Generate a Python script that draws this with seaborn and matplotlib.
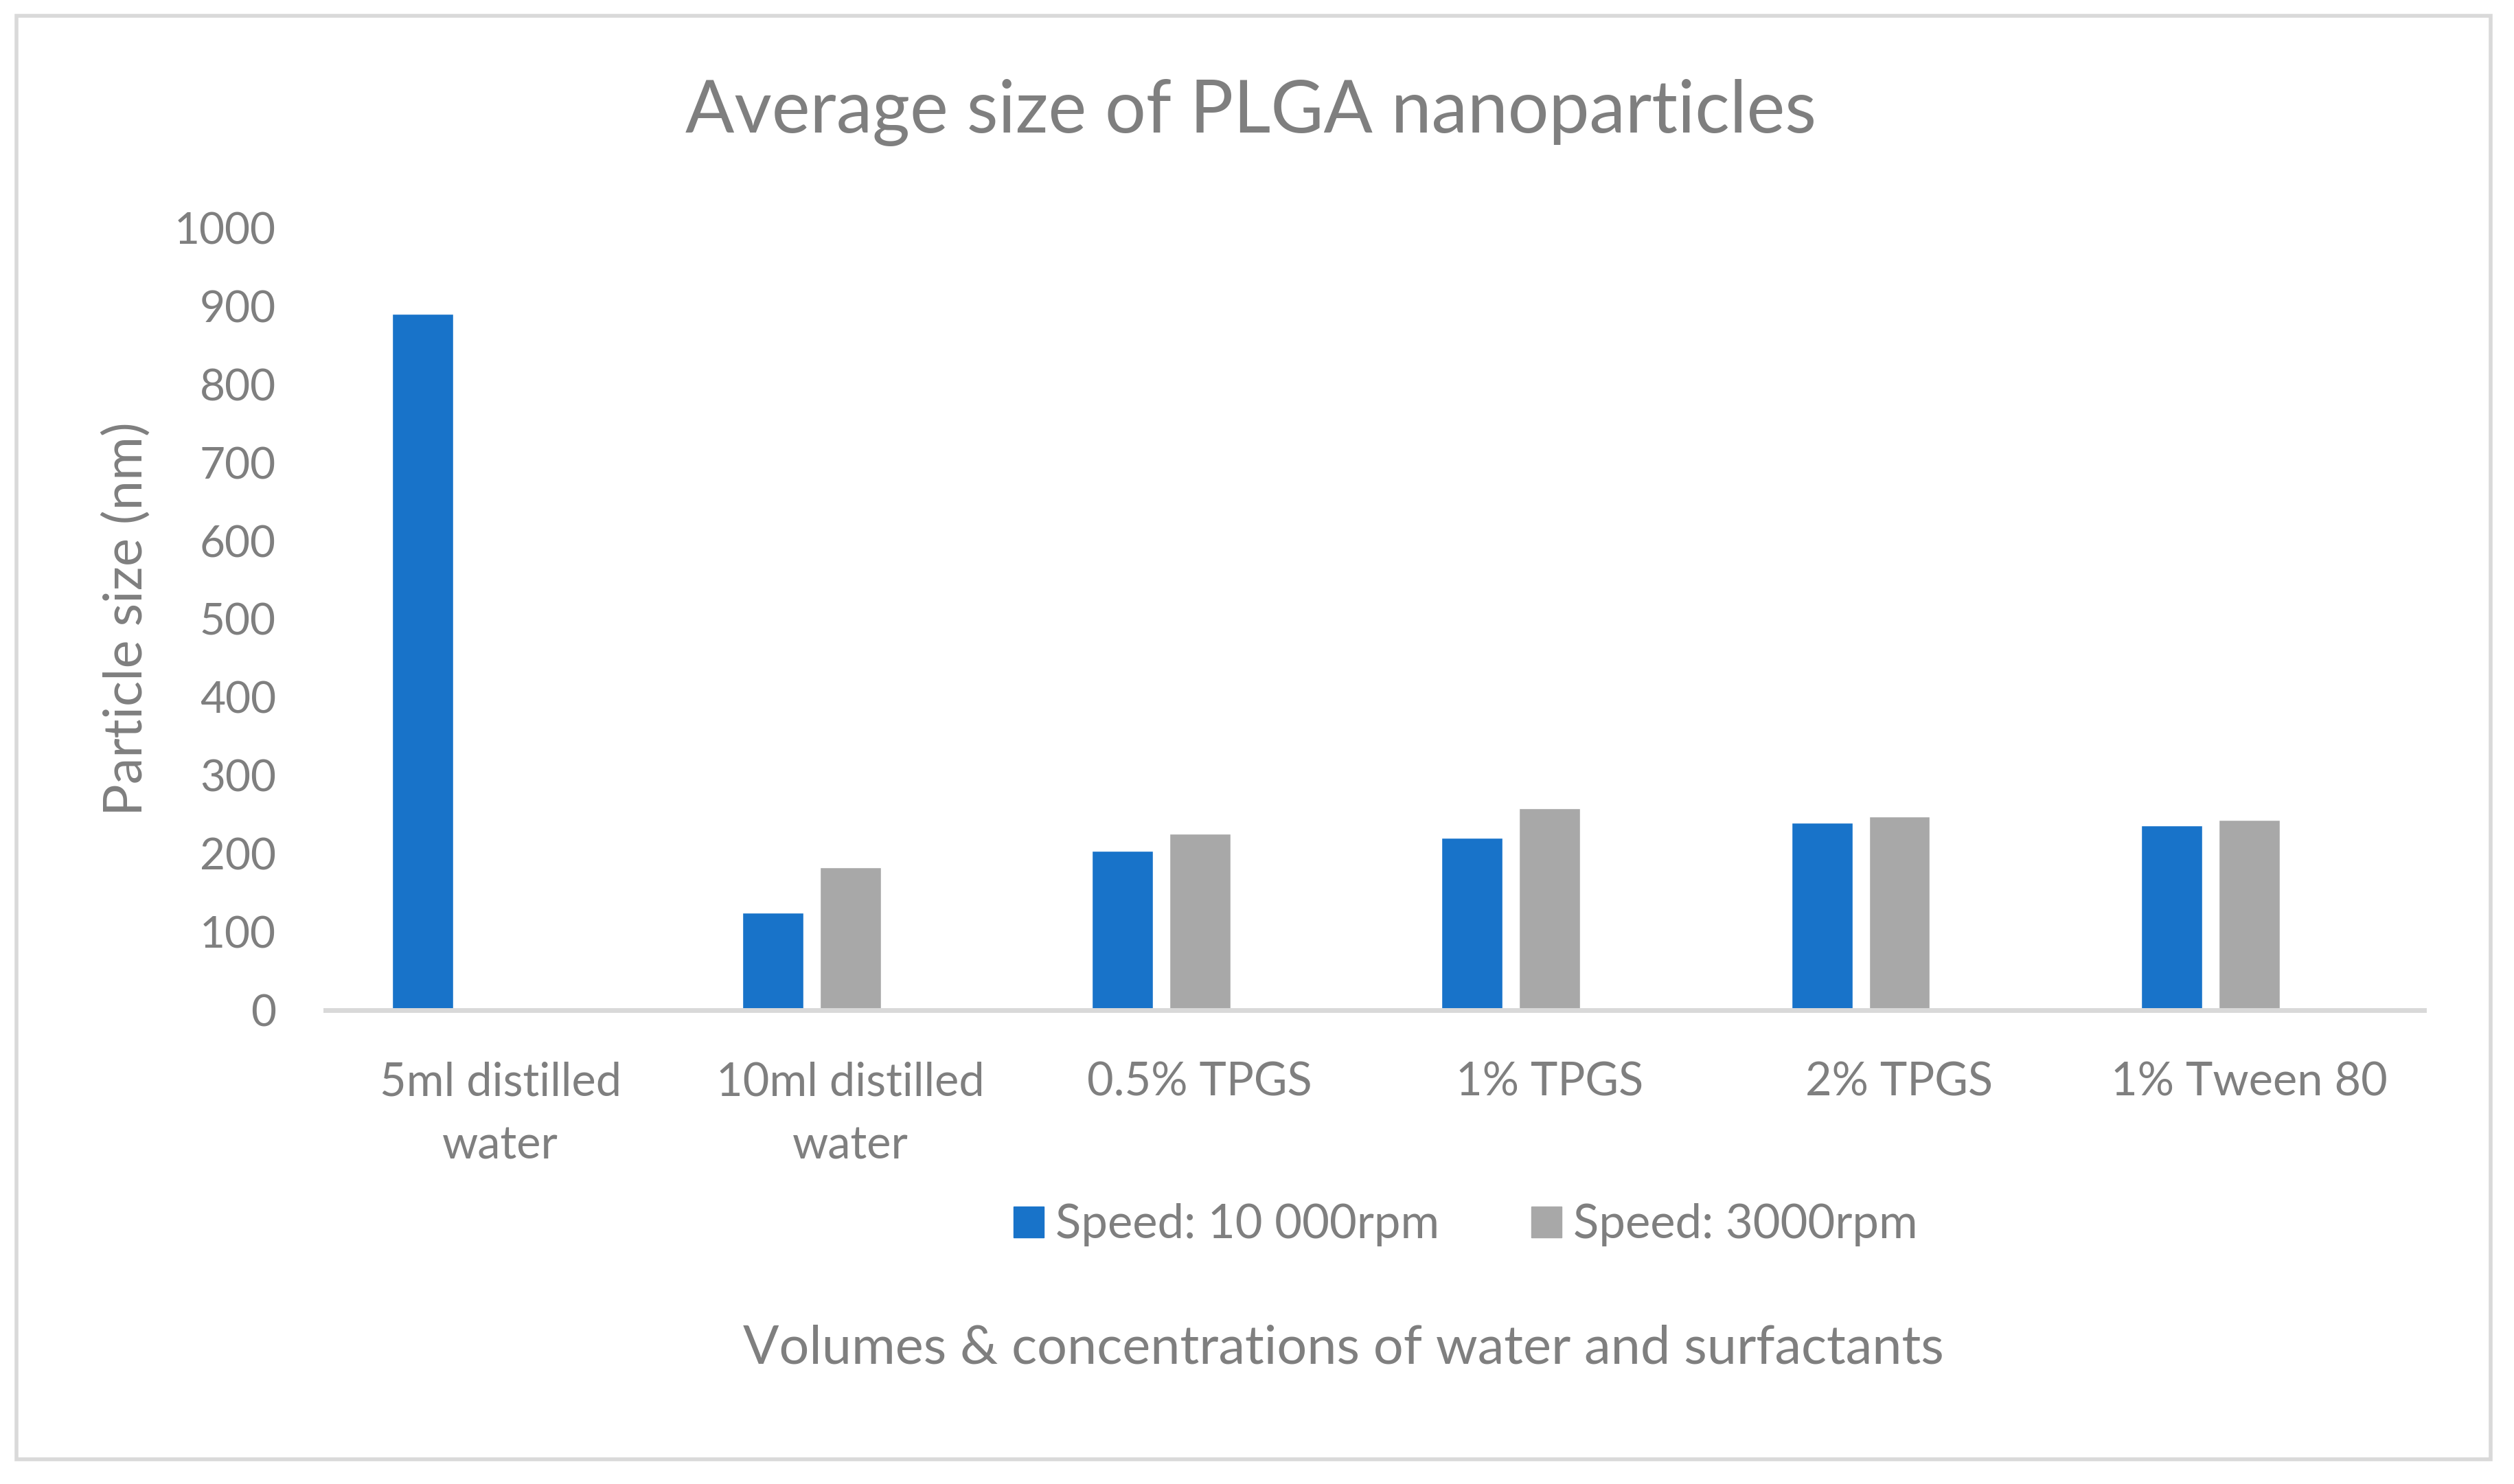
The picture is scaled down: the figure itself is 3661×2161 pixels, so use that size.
import numpy as np
import pandas as pd
import matplotlib
matplotlib.use("Agg")
import matplotlib.pyplot as plt
import matplotlib.patches as mpatches
import seaborn as sns

# Data
categories = ["5ml distilled\nwater", "10ml distilled\nwater", "0.5% TPGS", "1% TPGS", "2% TPGS", "1% Tween 80"]
speed_10000 = [890, 125, 204, 220, 240, 236]
speed_3000 = [np.nan, 183, 226, 258, 248, 243]          # no 3000rpm value for 5ml water
series_names = ["Speed: 10 000rpm", "Speed: 3000rpm"]
yticks = list(range(0, 1001, 100))

blue = "#1873C9"
grey = "#A8A8A8"
text_grey = "#7F7F7F"

# long format for seaborn
ds = pd.DataFrame({
    "category": categories * 2,
    "series": [series_names[0]] * len(categories) + [series_names[1]] * len(categories),
    "size": speed_10000 + speed_3000,
}).dropna()

sns.set_style("white")
plt.rcParams["font.family"] = ["Lato", "DejaVu Sans"]

fig = plt.figure(figsize=(36.61, 21.61), dpi=100)
ax = fig.add_axes([0.1295, 0.3193, 0.8347, 0.5271])

# the original Excel chart keeps an empty third slot in each cluster
hue_order = series_names + ["empty"]
palette = {series_names[0]: blue, series_names[1]: grey, "empty": "white"}
sns.barplot(data=ds, x="category", y="size", hue="series", order=categories,
            hue_order=hue_order, palette=palette, width=0.665, gap=0.2126,
            saturation=1, legend=False, ax=ax)

ax.set_xlim(-0.5, len(categories) - 0.5)
ax.set_ylim(0, 1000)
ax.set_yticks(yticks)
ax.tick_params(axis="both", length=0, colors=text_grey)
ax.tick_params(axis="y", pad=52, labelsize=46)
ax.tick_params(axis="x", pad=54, labelsize=48)
for lab in ax.get_xticklabels():
    lab.set_linespacing(1.6)

for s in ["top", "right", "left"]:
    ax.spines[s].set_visible(False)
ax.spines["bottom"].set_color("#D9D9D9")
ax.spines["bottom"].set_linewidth(5)

ax.set_xlabel("")
ax.set_ylabel("Particle size (nm)", fontsize=56, color=text_grey)
ax.yaxis.set_label_coords(-0.083, 0.5)

fig.text(0.4975, 0.924, "Average size of PLGA nanoparticles", fontsize=76,
         color=text_grey, ha="center", va="center")
fig.text(0.5345, 0.0912, "Volumes & concentrations of water and surfactants",
         fontsize=55.8, color=text_grey, ha="center", va="center")

handles = [mpatches.Patch(color=blue, label=series_names[0]),
           mpatches.Patch(color=grey, label=series_names[1])]
fig.legend(handles=handles, loc="center", bbox_to_anchor=(0.583, 0.1745), ncol=2,
           frameon=False, fontsize=49.5, labelcolor=text_grey, handlelength=0.64,
           handleheight=0.64, handletextpad=0.25, columnspacing=1.95)

# outer chart border
fig.patches.append(mpatches.Rectangle((0.0065, 0.0166), 0.9842, 0.9727, transform=fig.transFigure,
                                      fill=False, edgecolor="#D9D9D9", linewidth=4))

plt.savefig("out.png", dpi=100)
